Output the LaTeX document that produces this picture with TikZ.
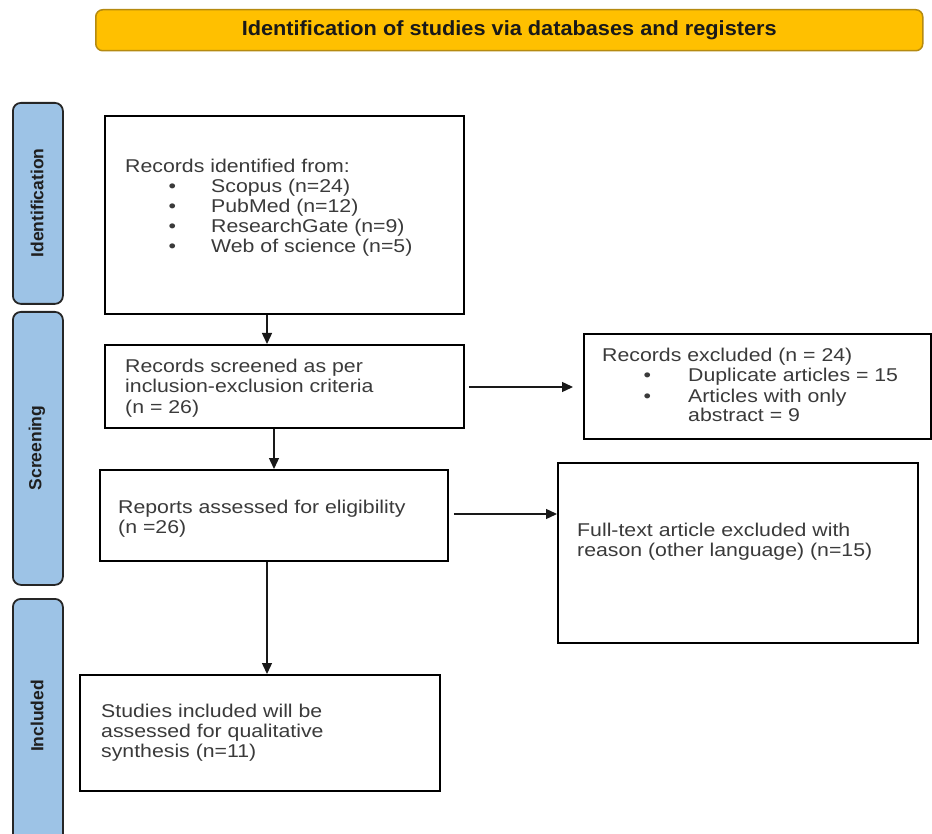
\documentclass[tikz,border=0pt]{standalone}
\usepackage{fontspec}
\setmainfont{Liberation Sans}[FakeStretch=1.15]
\newfontfamily\bannerfont{Liberation Sans}[FakeStretch=1.06]
\newfontfamily\tabfont{Liberation Sans}
\usetikzlibrary{arrows.meta}
\definecolor{banfill}{HTML}{FFC000}
\definecolor{bandraw}{HTML}{B58A10}
\definecolor{tabfill}{HTML}{9DC3E6}
\definecolor{txtc}{HTML}{3A3A3A}
\newcommand{\boxtext}[1]{\parbox[t]{330pt}{\raggedright\fontsize{18.5}{20}\selectfont #1}}
\newcommand{\bul}[3]{\hspace*{#1}\makebox[#2][l]{•}#3}
\begin{document}
\begin{tikzpicture}[x=1pt,y=-1pt,
  box/.style={draw=black, line width=1.8pt, fill=white, anchor=north west, inner sep=0pt},
  tabbox/.style={draw=black!85, line width=1.8pt, fill=tabfill, rounded corners=8pt, anchor=north west, inner sep=0pt},
  tablabel/.style={rotate=90, inner sep=0pt, text=black!88, font=\tabfont\bfseries\fontsize{17.5}{19}\selectfont},
  btext/.style={anchor=base west, inner sep=0pt, text=txtc},
  arr/.style={line width=1.4pt, draw=black!90, -{Triangle[length=11pt,width=10pt]}}]
\useasboundingbox (0,0) rectangle (932,834);
\clip (0,0) rectangle (932,834);

% banner
\node[draw=bandraw, line width=1.5pt, fill=banfill, rounded corners=7pt, anchor=north west, inner sep=0pt,
      minimum width=827pt, minimum height=41pt] (banner) at (95,9) {};
\node[inner sep=0pt, text=black!90, font=\bannerfont\bfseries\fontsize{20.5}{22}\selectfont] (bannert) at (banner.center)
      {Identification of studies via databases and registers};

% side tabs
\node[tabbox, minimum width=50pt, minimum height=201pt] (t1) at (12,102) {};
\node[tabbox, minimum width=50pt, minimum height=273pt] (t2) at (12,311) {};
\node[tabbox, minimum width=50pt, minimum height=260pt] (t3) at (12,598) {};
\node[tablabel] (t1l) at (37,203) {Identification};
\node[tablabel] (t2l) at (37,448) {Screening};
\node[tablabel] (t3l) at (37,716) {Included};

% boxes
\node[box, minimum width=359pt, minimum height=198pt] (b1) at (104,115) {};
\node[box, minimum width=359pt, minimum height=83pt] (b2) at (104,344) {};
\node[box, minimum width=347pt, minimum height=105pt] (b3) at (583,333) {};
\node[box, minimum width=348pt, minimum height=91pt] (b4) at (99,469) {};
\node[box, minimum width=360pt, minimum height=180pt] (b5) at (557,462) {};
\node[box, minimum width=360pt, minimum height=116pt] (b6) at (79,674) {};

% texts
\node[btext] (b1t) at (125,172.5) {\boxtext{Records identified from:\\
  \bul{43.5pt}{42.5pt}{Scopus (n=24)}\\
  \bul{43.5pt}{42.5pt}{PubMed (n=12)}\\
  \bul{43.5pt}{42.5pt}{ResearchGate (n=9)}\\
  \bul{43.5pt}{42.5pt}{Web of science (n=5)}}};
\node[btext] (b2t) at (125,373) {\boxtext{Records screened as per\\ inclusion-exclusion criteria\\ (n = 26)}};
\node[btext] (b3t) at (602,362) {\boxtext{Records excluded (n = 24)\\
  \bul{41.5pt}{44.5pt}{Duplicate articles = 15}\\
  \bul{41.5pt}{44.5pt}{Articles with only}\\
  \hspace*{86pt}abstract = 9}};
\node[btext] (b4t) at (118,513) {\boxtext{Reports assessed for eligibility\\ (n =26)}};
\node[btext] (b5t) at (577,536) {\boxtext{Full-text article excluded with\\ reason (other language) (n=15)}};
\node[btext] (b6t) at (101,717) {\boxtext{Studies included will be\\ assessed for qualitative\\ synthesis (n=11)}};

% connectors
\draw[arr] ([xshift=163pt]b1.south west) -- ([xshift=163pt]b2.north west);
\draw[arr] ([xshift=170pt]b2.south west) -- ([xshift=175pt]b4.north west);
\draw[arr] ([xshift=168pt]b4.south west) -- ([xshift=188pt]b6.north west);
\draw[arr, shorten <=4pt, shorten >=10pt] ([yshift=-43pt]b2.north east) -- ([yshift=-54pt]b3.north west);
\draw[arr, shorten <=5pt] ([yshift=-45pt]b4.north east) -- ([yshift=-52pt]b5.north west);
\end{tikzpicture}
\end{document}
